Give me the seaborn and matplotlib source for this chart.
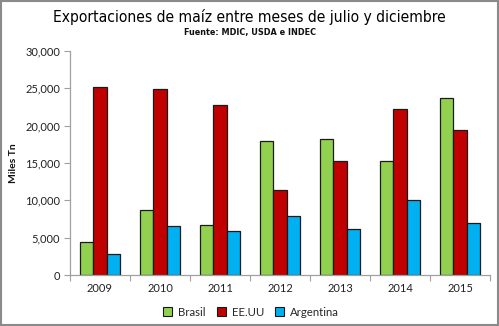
import matplotlib
matplotlib.use("Agg")
import matplotlib.pyplot as plt
import seaborn as sns
import pandas as pd
from matplotlib.patches import Rectangle
from matplotlib.ticker import FuncFormatter, FixedLocator, NullFormatter

years = ["2009", "2010", "2011", "2012", "2013", "2014", "2015"]
series = ["Brasil", "EE.UU", "Argentina"]
brasil = [4400, 8750, 6650, 17950, 18170, 15310, 23660]
eeuu = [25180, 24910, 22770, 11380, 15310, 22190, 19420]
argentina = [2770, 6610, 5940, 7900, 6210, 10040, 6920]
colors = ["#92D050", "#C00000", "#00B0F0"]

df = pd.DataFrame({
    "Año": years * 3,
    "Serie": ["Brasil"] * 7 + ["EE.UU"] * 7 + ["Argentina"] * 7,
    "Valor": brasil + eeuu + argentina,
})

sns.set_theme(style="white")
plt.rcParams['font.family'] = ['Lato', 'DejaVu Sans']

fig = plt.figure(figsize=(4.99, 3.26), dpi=100)
ax = fig.add_axes([70/499, 1-275/326, 420/499, 224/326])

sns.barplot(data=df, x="Año", y="Valor", hue="Serie", hue_order=series,
            palette=colors, width=0.675, edgecolor="#1a1a1a", linewidth=0.9,
            saturation=1, ax=ax, legend=True)

ax.set_xlim(-0.5, 6.5)
ax.set_ylim(0, 30000)
ax.set_yticks(range(0, 30001, 5000))
ax.yaxis.set_major_formatter(FuncFormatter(lambda v, p: f"{int(v):,}"))
ax.xaxis.set_minor_locator(FixedLocator([i - 0.5 for i in range(8)]))
ax.xaxis.set_minor_formatter(NullFormatter())
ax.tick_params(axis="x", which="major", length=0, pad=6, labelsize=8, colors="#222222")
ax.tick_params(axis="x", which="minor", length=4, color="#a0a0a0", width=0.8, direction="out", bottom=True)
ax.tick_params(axis="y", which="major", length=4, color="#a0a0a0", width=0.8, direction="out", left=True, pad=3, labelsize=8, colors="#222222")
for s in ["top", "right"]:
    ax.spines[s].set_visible(False)
for s in ["left", "bottom"]:
    ax.spines[s].set_color("#a0a0a0")
    ax.spines[s].set_linewidth(0.9)
ax.set_xlabel("")
ax.set_ylabel("Miles Tn", fontsize=7.5, fontweight="bold", labelpad=5, color="#111111")

leg = ax.legend(loc="center", bbox_to_anchor=((251-70)/420, -37/224), ncol=3, frameon=False,
                fontsize=8.2, handlelength=0.8, handleheight=0.8, handletextpad=0.5,
                columnspacing=1.0)
for h in leg.legend_handles:
    h.set_edgecolor("#1a1a1a")
    h.set_linewidth(0.8)

fig.text(0.5, 1-17/326, "Exportaciones de maíz entre meses de julio y diciembre",
         ha="center", va="center", fontsize=11.2, fontweight="medium",
         family=["Liberation Sans Narrow", "DejaVu Sans"], fontstretch="condensed", color="#000000")
fig.text(0.5, 1-33/326, "Fuente: MDIC, USDA e INDEC", ha="center", va="center",
         fontsize=6.5, fontweight="bold",
         family=["Liberation Sans Narrow", "DejaVu Sans"], fontstretch="condensed", color="#111111")

fig.patches.append(Rectangle((0.002, 0.003), 0.996, 0.994, transform=fig.transFigure,
                             fill=False, edgecolor="#8a8a8a", linewidth=1.5))

fig.savefig("out.png", dpi=100)
